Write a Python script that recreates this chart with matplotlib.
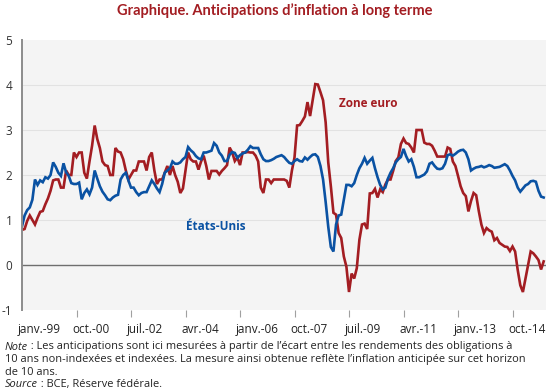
import matplotlib.pyplot as plt
from matplotlib.transforms import blended_transform_factory

plt.rcParams['font.family'] = ['Open Sans', 'DejaVu Sans']

# monthly values, janv. 1999 onwards
etats_unis = [
    0.86, 1.10, 1.22, 1.28, 1.45, 1.90, 1.78, 1.88, 1.84, 1.95,
    1.92, 2.00, 2.28, 2.18, 2.05, 1.98, 2.26, 2.06, 1.98, 1.82,
    1.80, 1.80, 1.83, 1.46, 1.60, 1.68, 1.57, 1.72, 2.10, 1.92,
    1.75, 1.63, 1.55, 1.46, 1.44, 1.50, 1.54, 1.56, 1.90, 2.00,
    2.05, 1.88, 1.72, 1.72, 1.62, 1.55, 1.60, 1.62, 1.62, 1.75,
    1.88, 1.80, 1.70, 1.62, 1.80, 2.05, 2.10, 2.15, 2.30, 2.25,
    2.25, 2.28, 2.35, 2.40, 2.62, 2.55, 2.50, 2.42, 2.37, 2.35,
    2.50, 2.50, 2.52, 2.54, 2.71, 2.65, 2.50, 2.43, 2.31, 2.31,
    2.45, 2.51, 2.49, 2.38, 2.44, 2.48, 2.50, 2.56, 2.64, 2.60,
    2.60, 2.60, 2.46, 2.35, 2.31, 2.31, 2.33, 2.36, 2.40, 2.42,
    2.44, 2.40, 2.33, 2.27, 2.25, 2.31, 2.35, 2.31, 2.30, 2.39,
    2.34, 2.40, 2.45, 2.46, 2.40, 2.20, 1.90, 1.40, 0.85, 0.40,
    0.30, 0.90, 1.10, 1.12, 1.45, 1.78, 1.78, 1.75, 1.82, 2.00,
    2.15, 2.25, 2.38, 2.25, 2.32, 2.38, 2.15, 1.95, 1.78, 1.68,
    1.72, 1.92, 2.05, 2.15, 2.28, 2.35, 2.40, 2.58, 2.42, 2.30,
    2.35, 2.18, 1.95, 1.95, 1.98, 2.01, 2.08, 2.25, 2.28, 2.20,
    2.14, 2.13, 2.15, 2.25, 2.44, 2.46, 2.43, 2.47, 2.52, 2.55,
    2.56, 2.50, 2.35, 2.10, 2.14, 2.17, 2.18, 2.20, 2.17, 2.19,
    2.22, 2.20, 2.16, 2.17, 2.18, 2.21, 2.24, 2.20, 2.10, 1.98,
    1.88, 1.72, 1.63, 1.70, 1.77, 1.80, 1.86, 1.87, 1.85, 1.65,
    1.52, 1.50,
]

zone_euro = [
    0.78, 0.80, 0.98, 1.10, 1.00, 0.90, 1.05, 1.18, 1.20, 1.35,
    1.48, 1.65, 1.88, 1.90, 1.90, 1.72, 1.72, 2.10, 2.00, 2.00,
    2.50, 2.40, 2.50, 2.50, 2.05, 1.92, 2.30, 2.65, 3.10, 2.80,
    2.60, 2.30, 2.22, 2.20, 2.00, 2.00, 2.60, 2.52, 2.50, 2.35,
    2.10, 1.90, 2.00, 2.10, 2.10, 2.30, 2.30, 2.30, 2.10, 2.40,
    2.50, 2.10, 1.80, 1.90, 1.90, 2.05, 2.20, 2.00, 2.20, 2.00,
    1.85, 1.60, 1.70, 2.10, 2.50, 2.35, 2.30, 2.30, 2.12, 2.30,
    2.43, 2.20, 1.90, 2.09, 2.09, 2.09, 2.01, 2.09, 2.15, 2.22,
    2.61, 2.50, 2.31, 2.39, 2.22, 2.50, 2.50, 2.51, 2.50, 2.50,
    2.43, 2.30, 1.72, 1.60, 1.90, 1.90, 1.82, 1.90, 1.90, 1.90,
    1.90, 1.90, 1.87, 1.72, 2.10, 2.39, 3.10, 3.11, 3.20, 3.30,
    3.62, 3.31, 3.66, 4.02, 4.01, 3.84, 3.66, 3.17, 2.28, 1.75,
    1.16, 1.12, 0.71, 0.60, 0.19, -0.04, -0.60, -0.19, -0.30, -0.07,
    0.56, 0.90, 0.92, 0.80, 1.59, 1.60, 1.69, 1.50, 1.68, 1.62,
    1.79, 1.90, 1.90, 2.09, 2.31, 2.39, 2.69, 2.81, 2.71, 2.69,
    2.61, 2.50, 3.00, 3.00, 3.00, 2.72, 2.69, 2.69, 2.65, 2.54,
    2.41, 2.41, 2.41, 2.41, 2.61, 2.58, 2.30, 2.20, 1.98, 1.75,
    1.60, 1.53, 1.19, 1.42, 1.60, 1.55, 1.20, 0.90, 0.71, 0.82,
    0.77, 0.74, 0.55, 0.60, 0.49, 0.45, 0.41, 0.40, 0.31, 0.41,
    0.30, -0.11, -0.45, -0.60, -0.30, 0.00, 0.30, 0.26, 0.19, 0.11,
    -0.10, 0.08,
]

tick_labels = ['janv.-99', 'oct.-00', 'juil.-02', 'avr.-04', 'janv.-06',
               'oct.-07', 'juil.-09', 'avr.-11', 'janv.-13', 'oct.-14']
tick_step = 21

RED = '#A31D22'
BLUE = '#0A52A3'

fig = plt.figure(figsize=(5.5, 3.91), dpi=100)
ax = fig.add_axes([22 / 550, 81 / 391, 524 / 550, 270 / 391])
ax.set_facecolor('#F4F4F4')

months = list(range(len(etats_unis)))
ax.plot(months, zone_euro, color=RED, lw=1.9, solid_joinstyle='miter')
ax.plot(months, etats_unis, color=BLUE, lw=1.9, solid_joinstyle='miter')

ax.set_xlim(0, 201.9)
ax.set_ylim(-1, 5)
ax.set_yticks(range(-1, 6))
ax.set_yticklabels([str(v) for v in range(-1, 6)], fontsize=8.5, color='#333333')
ax.tick_params(axis='y', length=0, pad=7)
for v in range(1, 5):
    ax.axhline(v, color='#E2E2E2', lw=0.8, zorder=0)
ax.axhline(0, color='#6E6E6E', lw=1.0, zorder=1)

for s in ['top', 'right', 'bottom']:
    ax.spines[s].set_visible(False)
ax.spines['left'].set_color('#8C8C8C')
ax.spines['left'].set_linewidth(1.4)

# tick marks below the plot, labels start at the tick
tick_pos = [i * tick_step for i in range(len(tick_labels))]
ax.set_xticks(tick_pos[1:])
ax.set_xticklabels([])
ax.tick_params(axis='x', length=5, width=0.8, color='#A0A0A0', direction='out')
trans = blended_transform_factory(ax.transData, ax.transAxes)
for p, lab in zip(tick_pos, tick_labels):
    ax.annotate(lab, xy=(p, 0), xycoords=trans, xytext=(-3, -14),
                textcoords='offset points', ha='left', va='center',
                fontsize=8.5, color='#222222', annotation_clip=False)

ax.text(122, 3.59, 'Zone euro', color=RED, fontsize=8.5, fontweight='bold',
        va='center', ha='left')
ax.text(63, 0.86, 'États-Unis', color=BLUE, fontsize=8.5, fontweight='bold',
        va='center', ha='left')

fig.text(0.5, 1 - 11 / 391, 'Graphique. Anticipations d\u2019inflation à long terme',
         ha='center', va='center', fontsize=10.5, fontweight='bold', color=RED,
         family=['Lato', 'DejaVu Sans'])

lines = [
    ('Note', ' : Les anticipations sont ici mesurées à partir de l\u2019écart entre les rendements des obligations à'),
    (None, '10 ans non-indexées et indexées. La mesure ainsi obtenue reflète l\u2019inflation anticipée sur cet horizon'),
    (None, 'de 10 ans.'),
    ('Source', ' : BCE, Réserve fédérale.'),
]
renderer = fig.canvas.get_renderer()
for i, (ital, rest) in enumerate(lines):
    y = 1 - (347 + i * 12.6) / 391
    x = 5 / 550
    if ital:
        t = fig.text(x, y, ital, fontsize=7.9, style='italic', va='center', color='#222222')
        bb = t.get_window_extent(renderer)
        x = bb.x1 / fig.bbox.width
    fig.text(x, y, rest, fontsize=7.9, va='center', color='#222222')

fig.savefig('out.png', dpi=100)
